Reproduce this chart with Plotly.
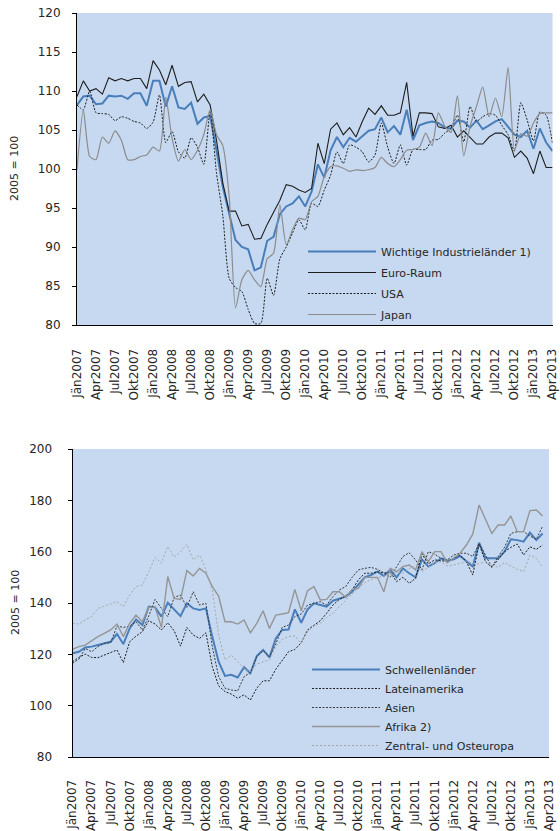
import plotly.graph_objects as go

# ---------------- data ----------------
tick_labels = ["Jän2007", "Apr2007", "Jul2007", "Okt2007",
               "Jän2008", "Apr2008", "Jul2008", "Okt2008",
               "Jän2009", "Apr2009", "Jul2009", "Okt2009",
               "Jän2010", "Apr2010", "Jul2010", "Okt2010",
               "Jän2011", "Apr2011", "Jul2011", "Okt2011",
               "Jän2012", "Apr2012", "Jul2012", "Okt2012",
               "Jän2013", "Apr2013"]

# top chart (Jän2007 - Apr2013, monthly)
industrielaender = [108.2, 109.3, 109.4, 108.3, 108.4, 109.4, 109.3, 109.4, 109.0, 109.7,
                    109.7, 108.1, 111.3, 111.3, 108.0, 110.6, 107.9, 107.7, 108.5, 105.8,
                    106.6, 106.8, 102.4, 97.7, 94.3, 90.9, 90.0, 89.7, 87.0, 87.4,
                    90.8, 91.3, 94.2, 95.2, 95.6, 96.5, 95.2, 97.1, 100.6, 98.9,
                    102.4, 104.1, 102.8, 104.0, 103.5, 104.2, 104.9, 105.1, 106.6, 104.7,
                    105.5, 104.4, 107.6, 103.7, 105.6, 105.9, 106.1, 105.9, 105.3, 105.2,
                    106.2, 106.1, 105.3, 106.2, 105.1, 105.6, 106.1, 106.4, 105.4, 104.4,
                    104.1, 104.9, 102.6, 105.2, 103.4, 102.3]
euro_raum = [109.3, 111.3, 110.0, 110.3, 109.6, 111.7, 111.3, 111.6, 111.3, 111.6,
             111.6, 110.3, 113.9, 112.7, 110.8, 113.3, 110.6, 111.1, 111.2, 108.6,
             109.6, 108.2, 103.7, 98.2, 94.6, 94.6, 92.7, 92.9, 91.0, 91.1,
             92.9, 94.5, 96.0, 98.0, 97.8, 97.3, 97.0, 97.5, 103.3, 100.7,
             105.1, 105.9, 104.4, 105.3, 104.1, 106.1, 107.8, 107.0, 108.1, 106.9,
             106.9, 107.2, 111.1, 104.2, 107.2, 107.2, 107.1, 105.4, 105.2, 105.6,
             104.1, 104.9, 104.0, 103.2, 103.2, 104.1, 104.6, 104.6, 104.0, 101.5,
             102.3, 101.4, 99.4, 102.3, 100.2, 100.2]
usa = [108.2, 107.6, 110.0, 107.2, 107.1, 107.0, 106.2, 106.7, 106.5, 106.1,
       105.9, 105.2, 106.0, 109.5, 103.4, 104.8, 102.2, 101.4, 104.0, 102.8,
       100.6, 107.4, 99.5, 94.0, 86.0, 84.8, 84.3, 82.0, 80.2, 80.2,
       86.0, 83.8, 88.5, 90.0, 91.8, 93.5, 92.2, 95.6, 95.2, 97.3,
       99.2, 102.2, 100.7, 103.1, 102.8, 102.2, 100.9, 101.8, 105.9, 102.8,
       100.7, 103.1, 100.5, 102.5, 102.5, 102.5, 103.7, 103.8, 104.6, 105.2,
       106.9, 103.5, 108.0, 106.1, 106.7, 107.1, 106.9, 105.6, 104.4, 102.3,
       108.5, 106.3, 103.6, 107.3, 106.9, 103.3]
japan = [99.9, 107.6, 101.6, 101.2, 104.1, 103.3, 104.9, 103.7, 101.2, 101.2,
         101.6, 101.8, 102.8, 102.3, 109.2, 103.9, 101.0, 102.5, 101.2, 102.4,
         104.4, 107.6, 104.4, 103.0, 96.5, 82.2, 85.8, 87.0, 85.8, 84.9,
         88.5, 89.2, 95.4, 90.3, 92.2, 93.7, 93.5, 95.8, 96.5, 99.0,
         100.3, 100.4, 100.1, 99.7, 99.9, 99.8, 99.9, 100.2, 101.5, 100.7,
         100.3, 101.2, 102.4, 102.5, 102.8, 104.6, 103.0, 107.2, 105.5, 104.7,
         109.4, 101.7, 105.5, 108.0, 110.5, 106.7, 109.1, 106.7, 113.0, 102.4,
         104.5, 104.2, 105.9, 107.1, 107.2, 107.2]

# bottom chart (Jän2007 - Mär2013, monthly)
schwellenlaender = [120.4, 121.0, 122.7, 123.0, 123.6, 124.3, 124.9, 127.9, 124.0, 130.1,
                    133.6, 131.4, 138.6, 138.3, 134.7, 140.1, 137.3, 134.9, 139.9, 137.9,
                    137.3, 137.9, 126.9, 117.1, 111.6, 112.0, 111.0, 115.0, 112.6, 119.3,
                    121.7, 118.8, 126.2, 129.5, 129.7, 137.5, 132.3, 137.5, 139.9, 139.2,
                    138.6, 140.9, 141.8, 142.5, 144.4, 147.0, 150.0, 150.9, 152.2, 150.5,
                    152.9, 150.0, 153.5, 151.6, 150.0, 157.0, 154.2, 155.5, 157.4, 156.5,
                    157.0, 158.3, 156.1, 154.2, 163.5, 157.4, 157.4, 157.4, 160.0, 164.8,
                    164.5, 163.9, 167.4, 164.5, 167.1]
lateinamerika = [117.1, 118.8, 120.1, 118.8, 118.7, 119.7, 120.6, 121.7, 116.8, 124.9,
                 127.1, 128.8, 133.1, 131.8, 129.5, 132.3, 129.2, 123.2, 130.5, 127.5,
                 126.2, 128.4, 115.2, 107.7, 105.5, 104.5, 102.9, 104.2, 102.2, 106.8,
                 109.7, 109.7, 114.2, 117.8, 121.0, 121.9, 124.5, 129.5, 131.4, 133.1,
                 136.0, 139.2, 141.4, 142.7, 145.1, 149.0, 151.6, 151.6, 152.2, 151.6,
                 152.2, 148.3, 150.0, 147.7, 149.6, 159.1, 155.2, 156.8, 156.5, 156.1,
                 157.4, 158.7, 156.1, 150.9, 163.0, 156.1, 153.9, 156.8, 160.0, 161.7,
                 163.0, 158.7, 161.9, 160.9, 162.6]
asien = [116.5, 118.1, 122.3, 121.0, 123.0, 124.3, 124.5, 131.0, 130.5, 131.0,
         132.7, 129.5, 134.9, 141.4, 137.9, 134.7, 142.2, 143.1, 138.3, 144.4,
         139.2, 139.9, 123.0, 111.3, 106.8, 106.1, 105.8, 111.3, 112.9, 119.1,
         121.4, 119.1, 124.0, 130.5, 131.4, 134.7, 135.7, 139.2, 139.9, 140.5,
         139.2, 142.5, 145.1, 146.4, 150.0, 152.9, 153.5, 153.9, 153.1, 151.8,
         150.0, 154.2, 158.1, 159.6, 156.8, 152.9, 160.0, 159.1, 157.4, 156.8,
         158.7, 159.4, 159.4, 158.1, 163.2, 158.7, 153.9, 158.1, 161.7, 167.1,
         167.8, 167.8, 166.1, 164.8, 170.0]
afrika = [121.9, 123.0, 123.6, 125.3, 126.9, 128.2, 129.5, 131.8, 126.9, 132.1,
          135.3, 132.7, 138.3, 138.3, 130.5, 150.3, 141.8, 141.4, 152.6, 150.5,
          153.5, 151.6, 146.4, 142.7, 132.7, 132.7, 131.8, 133.4, 128.4, 132.1,
          137.0, 130.1, 135.3, 135.7, 136.2, 145.3, 137.0, 144.8, 146.4, 141.2,
          141.4, 144.4, 144.4, 142.2, 145.3, 145.7, 150.0, 150.0, 150.0, 144.4,
          153.5, 152.2, 154.2, 154.8, 152.9, 160.0, 156.1, 160.0, 160.0, 155.7,
          157.4, 159.4, 162.6, 166.8, 178.2, 172.3, 167.1, 170.4, 170.4, 173.9,
          167.8, 167.8, 176.0, 176.2, 173.9]
osteuropa = [132.1, 131.8, 133.4, 134.7, 137.9, 138.8, 139.6, 140.5, 138.6, 143.1,
             146.4, 147.0, 152.2, 157.8, 155.5, 162.0, 157.8, 160.0, 162.9, 156.8,
             158.7, 153.0, 145.0, 127.5, 117.8, 119.7, 117.1, 114.5, 113.2, 116.2,
             117.1, 117.8, 123.0, 125.8, 126.9, 127.2, 124.3, 128.8, 131.0, 132.1,
             134.4, 136.0, 138.6, 141.2, 143.5, 145.7, 147.9, 149.2, 150.0, 150.5,
             151.3, 151.8, 151.6, 153.5, 154.4, 152.2, 153.9, 155.7, 156.1, 154.4,
             154.8, 155.5, 156.1, 155.5, 155.2, 156.1, 154.8, 153.9, 155.7, 154.4,
             153.1, 152.2, 158.7, 157.4, 153.9]

y_title = "2005 = 100"

# ---------------- figure ----------------
FONT = "DejaVu Sans"
TXT = "#262626"
BG = "#C6D9F1"

fig = go.Figure()

top_series = [
    ("Wichtige Industrieländer 1)", industrielaender, dict(color="#4A7EBB", width=2), "linear"),
    ("Euro-Raum", euro_raum, dict(color="#1E1E1E", width=1.1), "linear"),
    ("USA", usa, dict(color="#1E1E1E", width=1, dash="2px,1.5px"), "spline"),
    ("Japan", japan, dict(color="#8C8C8C", width=1.2), "spline"),
]
for k, (name, vals, line, shape) in enumerate(top_series):
    line = dict(line, shape=shape)
    if shape == "spline":
        line["smoothing"] = 0.6
    fig.add_trace(go.Scatter(x=list(range(len(vals))), y=vals, name=name, mode="lines",
                             line=line, xaxis="x", yaxis="y", legend="legend",
                             legendgroup="t%d" % k))

bottom_series = [
    ("Schwellenländer", schwellenlaender, dict(color="#4A7EBB", width=2)),
    ("Lateinamerika", lateinamerika, dict(color="#1E1E1E", width=1, dash="2px,1.5px")),
    ("Asien", asien, dict(color="#3A3A3A", width=1, dash="2px,1.5px")),
    ("Afrika 2)", afrika, dict(color="#959595", width=1.4)),
    ("Zentral- und Osteuropa", osteuropa, dict(color="#A6A6A6", width=1, dash="2px,2px")),
]
for k, (name, vals, line) in enumerate(bottom_series):
    fig.add_trace(go.Scatter(x=list(range(len(vals))), y=vals, name=name, mode="lines",
                             line=line, xaxis="x2", yaxis="y2", legend="legend2",
                             legendgroup="b%d" % k))

W, H = 560, 831
tick_pos = list(range(0, 3 * len(tick_labels), 3))
TOP_R = 552.5

common_x = dict(range=[0, 75], showgrid=False, zeroline=False, showline=True,
                linecolor="black", linewidth=1, tickangle=-90,
                tickvals=tick_pos, ticktext=tick_labels, ticklabeloverflow="allow",
                ticks="outside", tickcolor="rgba(0,0,0,0)",
                tickfont=dict(family=FONT, size=12, color=TXT))
mark_x = dict(range=[0, 75], side="bottom", showgrid=False, zeroline=False,
              showline=False, showticklabels=False, ticks="outside", ticklen=5,
              tickcolor="black", tickwidth=1)
common_y = dict(showgrid=False, zeroline=False, showline=True, linecolor="black",
                linewidth=1, ticks="outside", ticklen=4, tickcolor="black",
                tickfont=dict(family=FONT, size=12, color=TXT))

fig.update_layout(
    template="none",
    width=W, height=H,
    margin=dict(l=0, r=0, t=0, b=0),
    paper_bgcolor="white",
    plot_bgcolor=BG,
    font=dict(family=FONT, size=11, color=TXT),
    showlegend=True,
    xaxis=dict(common_x, domain=[77 / W, TOP_R / W], anchor="y", ticklen=18),
    xaxis3=dict(mark_x, domain=[77 / W, TOP_R / W], anchor="y", overlaying="x",
                tickvals=list(range(0, 76, 3))),
    yaxis=dict(common_y, domain=[1 - 325 / H, 1 - 13 / H], anchor="x",
               range=[80, 120], dtick=5, ticklabelstandoff=9),
    xaxis2=dict(common_x, domain=[72.5 / W, 549 / W], anchor="y2", ticklen=17),
    xaxis4=dict(mark_x, domain=[72.5 / W, 549 / W], anchor="y2", overlaying="x2",
                tickvals=list(range(0, 76, 6))),
    yaxis2=dict(common_y, domain=[1 - 757 / H, 1 - 449 / H], anchor="x2",
                range=[80, 200], dtick=20, ticklabelstandoff=13),
    legend=dict(x=303 / W, y=1 - 237 / H, xanchor="left", yanchor="top",
                bgcolor="rgba(0,0,0,0)", itemwidth=68, tracegroupgap=2,
                font=dict(family=FONT, size=11, color=TXT)),
    legend2=dict(x=307 / W, y=1 - 655 / H, xanchor="left", yanchor="top",
                 bgcolor="rgba(0,0,0,0)", itemwidth=68, tracegroupgap=0,
                 font=dict(family=FONT, size=11, color=TXT)),
    annotations=[
        dict(text=y_title, textangle=-90, x=15 / W, y=1 - 169 / H, xref="paper",
             yref="paper", showarrow=False, xanchor="center", yanchor="middle",
             font=dict(family=FONT, size=11, color=TXT)),
        dict(text=y_title, textangle=-90, x=15 / W, y=1 - 603 / H, xref="paper",
             yref="paper", showarrow=False, xanchor="center", yanchor="middle",
             font=dict(family=FONT, size=11, color=TXT)),
    ],
)

fig.write_html("out.html", config={"displayModeBar": False},
               post_script="document.body.style.margin='0';")
